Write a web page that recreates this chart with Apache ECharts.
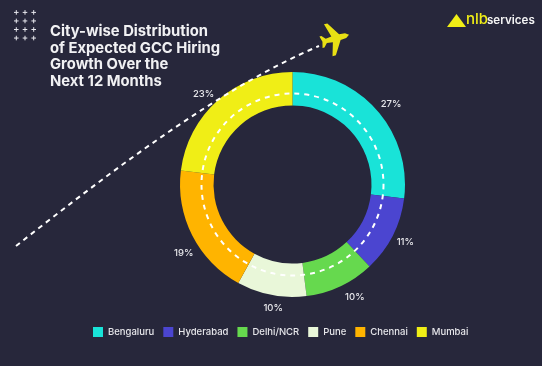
<!DOCTYPE html>
<html><head><meta charset="utf-8">
<style>html,body{margin:0;padding:0;background:#27273b}#c{width:542px;height:366px}</style>
<script src="https://cdn.jsdelivr.net/npm/echarts@6/dist/echarts.min.js"></script>
</head><body><div id="c"></div>
<script>
const cities = ['Bengaluru','Hyderabad','Delhi/NCR','Pune','Chennai','Mumbai'];
const shares = [27,11,10,10,19,23];
const colors = ['#19e3d8','#4b45d0','#66d94e','#e9f7d9','#ffb400','#f0ee16'];
const titleLines = ['City-wise Distribution','of Expected GCC Hiring','Growth Over the','Next 12 Months'];
const labelNudges = [[1,6],[-3,-1],[7,-5],[5,-4],[7,10],[-3,7]];
const FONT = 'Inter, "Open Sans", sans-serif';
const chart = echarts.init(document.getElementById('c'));
const pieData = cities.map((n,i)=>({name:n,value:shares[i],itemStyle:{color:colors[i]}}));
const plus = [];
for(let r=0;r<4;r++)for(let c=0;c<3;c++){
  const x=16.3+c*8.7,y=12.4+r*8.55;
  plus.push({type:'line',shape:{x1:x-2.3,y1:y,x2:x+2.3,y2:y},style:{stroke:'#e8e8ee',lineWidth:1}});
  plus.push({type:'line',shape:{x1:x,y1:y-2.3,x2:x,y2:y+2.3},style:{stroke:'#e8e8ee',lineWidth:1}});
}
chart.setOption({
  backgroundColor:'#27273b',
  animation:false,
  title:{text:titleLines.join('\n'),left:45,top:18,textStyle:{color:'#f1f1f3',fontFamily:FONT,fontSize:14.8,fontWeight:700,lineHeight:16.8}},
  legend:{bottom:24,left:88,itemWidth:10,itemHeight:10,itemGap:9,icon:'rect',
    data:cities,textStyle:{color:'#e6e6ea',fontFamily:FONT,fontSize:9.5,fontWeight:500}},
  series:[
    {type:'pie',center:[292.5,184.5],radius:[79,112.5],startAngle:90,clockwise:true,silent:true,
      label:{show:false},labelLine:{show:false},data:pieData},
    {type:'pie',center:[292.5,184.5],radius:[127,127],startAngle:90,silent:true,legendHoverLink:false,
      itemStyle:{color:'transparent'},
      label:{show:true,position:'inside',formatter:'{c}%',color:'#e6e6ea',fontFamily:FONT,fontSize:9.5,fontWeight:500},
      labelLine:{show:false},
      labelLayout:p=>({dx:labelNudges[p.dataIndex][0],dy:labelNudges[p.dataIndex][1]}),
      data:cities.map((n,i)=>({name:n,value:shares[i],itemStyle:{color:'transparent'}}))}
  ],
  graphic:[
    {type:'circle',shape:{cx:292.5,cy:184.5,r:91},style:{fill:'none',stroke:'#fff',lineWidth:2,lineDash:[5,5]},z:10},
    {type:'bezierCurve',shape:{x1:16,y1:246,cpx1:110,cpy1:172,cpx2:220,cpy2:88,x2:319,y2:46},style:{fill:'none',stroke:'#fff',lineWidth:2,lineDash:[5,4.5]},z:10},
    {type:'group',x:335,y:38.5,rotation:-75*Math.PI/180,z:11,children:[
      {type:'polygon',shape:{points:[[0,-14.5],[2.4,-11],[3,-5],[16.5,3.5],[16.5,7],[3,3],[2.2,9],[6,12.5],[6,14.5],[0,13],[-6,14.5],[-6,12.5],[-2.2,9],[-3,3],[-16.5,7],[-16.5,3.5],[-3,-5],[-2.4,-11]]},style:{fill:'#e8e014'}}
    ]},
    {type:'polygon',shape:{points:[[447,27],[456.5,14],[466,27]]},style:{fill:'#f0ee16'}},
    {type:'text',x:466,y:12,style:{text:'nlb',fill:'#f0ee16',font:'500 15px '+FONT}},
    {type:'text',x:487,y:15,style:{text:'services',fill:'#f4f4f4',font:'600 11.6px '+FONT}},
    ...plus
  ]
});
</script></body></html>
